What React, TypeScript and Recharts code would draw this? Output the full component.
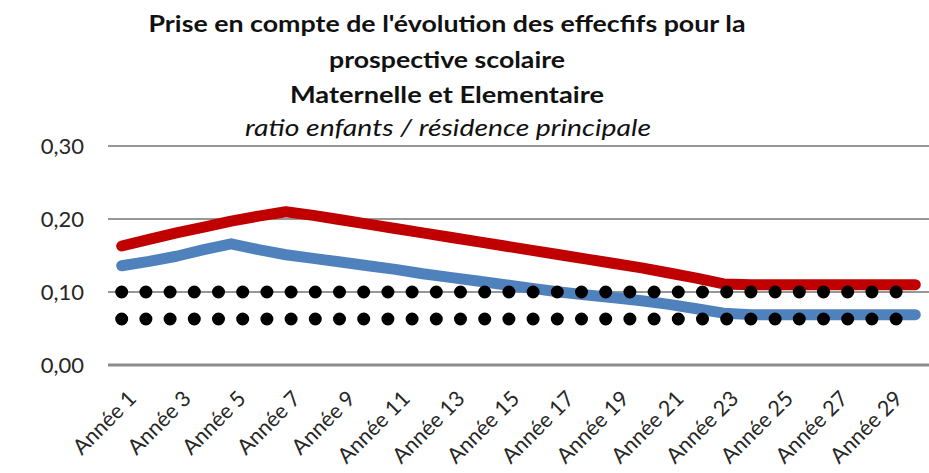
import React from "react";
import { LineChart, Line, XAxis, YAxis, CartesianGrid } from "recharts";

const categories = [
  "Année 1", "Année 2", "Année 3", "Année 4", "Année 5", "Année 6", "Année 7", "Année 8", "Année 9", "Année 10",
  "Année 11", "Année 12", "Année 13", "Année 14", "Année 15", "Année 16", "Année 17", "Année 18", "Année 19", "Année 20",
  "Année 21", "Année 22", "Année 23", "Année 24", "Année 25", "Année 26", "Année 27", "Année 28", "Année 29", "Année 30",
];

const ratioHaut = [
  0.163, 0.172, 0.181, 0.189, 0.197, 0.204, 0.210, 0.205, 0.199, 0.193,
  0.187, 0.181, 0.175, 0.169, 0.163, 0.157, 0.151, 0.145, 0.139, 0.133,
  0.126, 0.119, 0.111, 0.110, 0.110, 0.110, 0.110, 0.110, 0.110, 0.110,
];

const ratioBas = [
  0.136, 0.142, 0.149, 0.158, 0.166, 0.158, 0.151, 0.146, 0.141, 0.136,
  0.131, 0.125, 0.120, 0.115, 0.110, 0.105, 0.100, 0.096, 0.092, 0.088,
  0.083, 0.077, 0.071, 0.069, 0.069, 0.069, 0.069, 0.069, 0.069, 0.069,
];

const seuilHaut = [
  0.10, 0.10, 0.10, 0.10, 0.10, 0.10, 0.10, 0.10, 0.10, 0.10,
  0.10, 0.10, 0.10, 0.10, 0.10, 0.10, 0.10, 0.10, 0.10, 0.10,
  0.10, 0.10, 0.10, 0.10, 0.10, 0.10, 0.10, 0.10, 0.10, 0.10,
];

const seuilBas = [
  0.063, 0.063, 0.063, 0.063, 0.063, 0.063, 0.063, 0.063, 0.063, 0.063,
  0.063, 0.063, 0.063, 0.063, 0.063, 0.063, 0.063, 0.063, 0.063, 0.063,
  0.063, 0.063, 0.063, 0.063, 0.063, 0.063, 0.063, 0.063, 0.063, 0.063,
];

const yTicks = [0, 0.1, 0.2, 0.3];

const titleLines = [
  "Prise en compte de l'évolution des effecfifs pour la",
  "prospective scolaire",
  "Maternelle et Elementaire",
];
const subtitle = "ratio enfants / résidence principale";

const data = categories.map((c, i) => ({
  name: c,
  haut: ratioHaut[i],
  bas: ratioBas[i],
  s1: seuilHaut[i],
  s2: seuilBas[i],
}));

const FONT = "Lato, 'Open Sans', sans-serif";

const XTick = (props: any) => {
  const { x, y, payload } = props;
  const ax = x + 16;
  const ay = y + 35;
  return (
    <text
      x={ax}
      y={ay}
      transform={`rotate(-45 ${ax} ${ay})`}
      textAnchor="end"
      fontFamily={FONT}
      fontSize={21.5}
      fill="#262626"
    >
      {payload.value}
    </text>
  );
};

export default function App() {
  return (
    <div style={{ position: "absolute", left: 0, top: 0, width: 929, height: 473, background: "#fff" }}>
      <svg width={929} height={145} style={{ position: "absolute", left: 0, top: 0 }}>
        <text x={447} y={32} textAnchor="middle" fontFamily={FONT} fontWeight="bold" fontSize={23}
          textLength={597} lengthAdjust="spacingAndGlyphs" fill="#111">
          {titleLines[0]}
        </text>
        <text x={447} y={68} textAnchor="middle" fontFamily={FONT} fontWeight="bold" fontSize={23}
          textLength={236} lengthAdjust="spacingAndGlyphs" fill="#111">
          {titleLines[1]}
        </text>
        <text x={447} y={103} textAnchor="middle" fontFamily={FONT} fontWeight="bold" fontSize={23}
          textLength={314} lengthAdjust="spacingAndGlyphs" fill="#111">
          {titleLines[2]}
        </text>
        <text x={448} y={136} textAnchor="middle" fontFamily={FONT} fontStyle="italic" fontSize={23}
          textLength={406} lengthAdjust="spacingAndGlyphs" fill="#111">
          {subtitle}
        </text>
      </svg>
      <div style={{ position: "absolute", left: 0, top: 0 }}>
        <LineChart
          width={929}
          height={473}
          data={data}
          margin={{ top: 146, right: 0, bottom: 0, left: 0 }}
        >
          <CartesianGrid vertical={false} stroke="#979797" strokeWidth={2} />
          <XAxis
            dataKey="name"
            scale="point"
            padding={{ left: 13.7, right: 13.7 }}
            interval={1}
            height={108}
            tickLine={false}
            tickSize={0}
            tickMargin={0}
            axisLine={{ stroke: "#8c8c8c", strokeWidth: 3 }}
            tick={<XTick />}
          />
          <YAxis
            domain={[0, 0.3]}
            ticks={yTicks}
            width={108}
            axisLine={false}
            tickLine={false}
            tickSize={0}
            tickMargin={24}
            tickFormatter={(v: number) => v.toFixed(2).replace(".", ",")}
            tick={{ fontFamily: FONT, fontSize: 22, fill: "#262626" }}
          />
          <Line
            dataKey="haut"
            stroke="#c00000"
            strokeWidth={11}
            strokeLinecap="round"
            strokeLinejoin="round"
            dot={false}
            activeDot={false}
            isAnimationActive={false}
          />
          <Line
            dataKey="bas"
            stroke="#4f81bd"
            strokeWidth={11}
            strokeLinecap="round"
            strokeLinejoin="round"
            dot={false}
            activeDot={false}
            isAnimationActive={false}
          />
          <Line
            dataKey="s1"
            stroke="#000"
            strokeWidth={13}
            strokeLinecap="round"
            strokeDasharray="0 24.2"
            dot={false}
            activeDot={false}
            isAnimationActive={false}
          />
          <Line
            dataKey="s2"
            stroke="#000"
            strokeWidth={13}
            strokeLinecap="round"
            strokeDasharray="0 24.2"
            dot={false}
            activeDot={false}
            isAnimationActive={false}
          />
        </LineChart>
      </div>
    </div>
  );
}
